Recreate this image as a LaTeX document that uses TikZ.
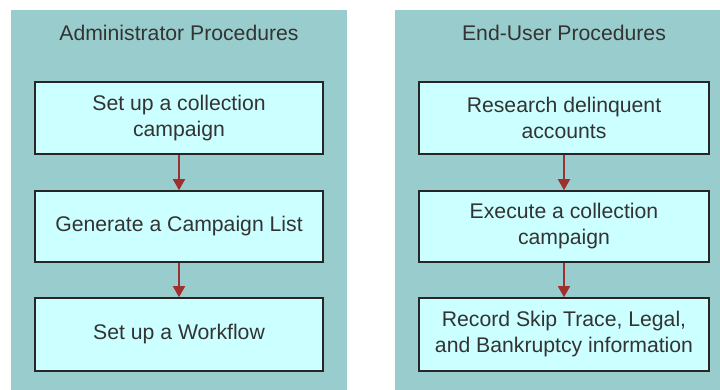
\documentclass[tikz,border=0pt]{standalone}
\usepackage{fontspec}
\setmainfont{Liberation Sans}
\usetikzlibrary{arrows.meta}
\definecolor{panelc}{HTML}{99CCCC}
\definecolor{boxc}{HTML}{CCFFFF}
\definecolor{arrc}{HTML}{A03030}
\definecolor{txtc}{HTML}{333333}
\tikzset{
  panel/.style={fill=panelc, draw=none},
  stepbox/.style={draw=black!85, line width=1.6pt, fill=boxc, text=txtc,
    minimum height=71pt, align=center, inner sep=0pt,
    font=\fontsize{21.2}{26}\selectfont},
  ptitle/.style={text=txtc, font=\fontsize{21.2}{26}\selectfont, inner sep=0pt},
  flow/.style={draw=arrc, line width=1.6pt, -{Triangle[width=12pt,length=11pt]}}
}
\begin{document}
\begin{tikzpicture}[x=1pt,y=-1pt]
\useasboundingbox (0,0) rectangle (720,390);
\fill[white] (0,0) rectangle (720,390);
\path[panel] (11,10) rectangle (347,390);
\path[panel] (395,10) rectangle (720,390);
\node[ptitle] (t1) at (179,33) {Administrator Procedures};
\node[ptitle] (t2) at (564,33) {End-User Procedures};
\node[stepbox, minimum width=288pt, minimum height=72pt] (a1) at (179,118) {Set up a collection\\campaign};
\node[stepbox, minimum width=288pt] (a2) at (179,226.5) {Generate a Campaign List};
\node[stepbox, minimum width=288pt, minimum height=73pt] (a3) at (179,334.5) {Set up a Workflow};
\node[stepbox, minimum width=290pt, minimum height=72pt] (b1) at (564,118) {Research delinquent\\accounts};
\node[stepbox, minimum width=290pt] (b2) at (564,226.5) {Execute a collection\\campaign};
\node[stepbox, minimum width=290pt, minimum height=73pt] (b3) at (564,334.5) {Record Skip Trace, Legal,\\and Bankruptcy information};
\draw[flow] (a1) -- (a2);
\draw[flow] (a2) -- (a3);
\draw[flow] (b1) -- (b2);
\draw[flow] (b2) -- (b3);
\end{tikzpicture}
\end{document}
